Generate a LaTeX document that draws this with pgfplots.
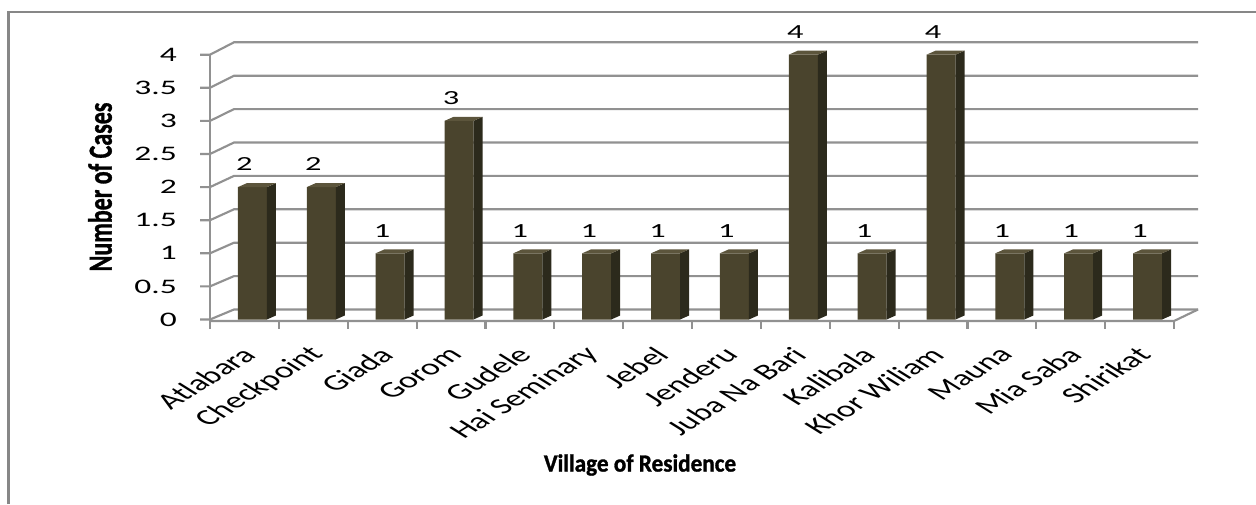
\documentclass[border=0pt]{standalone}
\usepackage{fontspec}
\setmainfont{Carlito}
\newfontfamily\widefont[FakeStretch=1.62]{Carlito}
\newfontfamily\boldwide[FakeStretch=0.94, FakeBold=1.2]{Carlito Bold}
\newfontfamily\boldlabel[FakeBold=1.2]{Carlito Bold}
\usepackage{pgfplots}
\usepackage{pgfplotstable}
\pgfplotsset{compat=1.18}
\definecolor{barfront}{RGB}{74,68,45}
\definecolor{barside}{RGB}{44,42,28}
\definecolor{bartop}{RGB}{92,85,60}
\definecolor{gridc}{RGB}{145,145,145}
\definecolor{framec}{RGB}{135,135,135}

\pgfplotstableread{
x v
0 2
1 2
2 1
3 3
4 1
5 1
6 1
7 1
8 4
9 1
10 4
11 1
12 1
13 1
}\datatable

\pgfdeclareplotmark{box3d}{%
  \pgfmathsetlengthmacro\hh{\val*49.65pt}%
  \pgfsetfillcolor{barside}%
  \pgfpathmoveto{\pgfpoint{16.875pt}{0pt}}%
  \pgfpathlineto{\pgfpoint{23.625pt}{3pt}}%
  \pgfpathlineto{\pgfpoint{23.625pt}{3pt-\hh}}%
  \pgfpathlineto{\pgfpoint{16.875pt}{-\hh}}%
  \pgfpathclose
  \pgfusepath{fill}%
  \pgfsetfillcolor{bartop}%
  \pgfpathmoveto{\pgfpoint{-4.875pt}{0pt}}%
  \pgfpathlineto{\pgfpoint{16.875pt}{0pt}}%
  \pgfpathlineto{\pgfpoint{23.625pt}{3pt}}%
  \pgfpathlineto{\pgfpoint{1.875pt}{3pt}}%
  \pgfpathclose
  \pgfusepath{fill}%
}

\begin{document}
\begin{tikzpicture}
\begin{scope}[shift={(0pt,378pt)}, x=0.75pt, y=-0.75pt]
  \path[use as bounding box] (0,0) rectangle (1256,504);
  \draw[framec, line width=2.2pt] (8.5,504) -- (8.5,12) -- (1256,12);
  % back wall grid
  \foreach \v in {0,0.5,...,4.01} {
    \pgfmathsetmacro\yy{319.5-66.2*\v}
    \pgfmathsetmacro\dy{10+0.6*\v}
    \draw[gridc, line width=1.6pt] (200,\yy) -- (210,\yy) -- (234,\yy-\dy) -- (1198,\yy-\dy);
  }
  \draw[gridc, line width=1.6pt] (210,329) -- (210,54);
  \draw[gridc, line width=1.6pt] (210,321) -- (1174,321) -- (1198,309.5);
  \foreach \k in {0,...,14} {
    \draw[gridc, line width=1.6pt] (210+68.857*\k,321) -- (210+68.857*\k,329);
  }
  \node[font=\boldlabel\fontsize{18}{18}\selectfont, cm={0,1,-1.4,0,(0,0)}] at (100,187) {Number of Cases};
  \node[font=\boldwide\fontsize{18.5}{19}\selectfont] at (640,465) {Village of Residence};
\end{scope}
\begin{axis}[
  at={(157.5pt,138.375pt)}, anchor=south west, scale only axis,
  x=51.643pt, y=49.65pt,
  xmin=-0.5, xmax=13.5, ymin=0, ymax=4,
  clip=false,
  axis line style={draw=none},
  major tick style={draw=none},
  /pgf/number format/assume math mode=true,
  ytick={0,0.5,1,1.5,2,2.5,3,3.5,4},
  yticklabels={0,0.5,1,1.5,2,2.5,3,3.5,4},
  yticklabel style={font=\widefont\fontsize{15.5}{16}\selectfont, anchor=east, inner sep=0pt, xshift=-24.75pt},
  xtick={0,...,13},
  xticklabels={Atlabara, Checkpoint, Giada, Gorom, Gudele, Hai Seminary, Jebel, Jenderu, Juba Na Bari, Kalibala, Khor Wiliam, Mauna, Mia Saba, Shirikat},
  xticklabel style={font=\fontsize{16.8}{17}\selectfont, anchor=east, inner sep=0pt, xshift=3.4pt, yshift=-23.5pt, cm={1.1314,0.7071,-1.1314,0.7071,(0,0)}},
]
\addplot[ybar, bar width=21.75pt, bar shift=6pt, fill=barfront, draw=none,
  nodes near coords,
  every node near coord/.append style={font=\widefont\fontsize{15}{15}\selectfont, anchor=center, yshift=17pt, text=black}]
  table[x=x, y=v] {\datatable};
\addplot[scatter, only marks, mark=box3d,
  visualization depends on={\thisrow{v} \as \val}]
  table[x=x, y=v] {\datatable};
\end{axis}
\end{tikzpicture}
\end{document}
